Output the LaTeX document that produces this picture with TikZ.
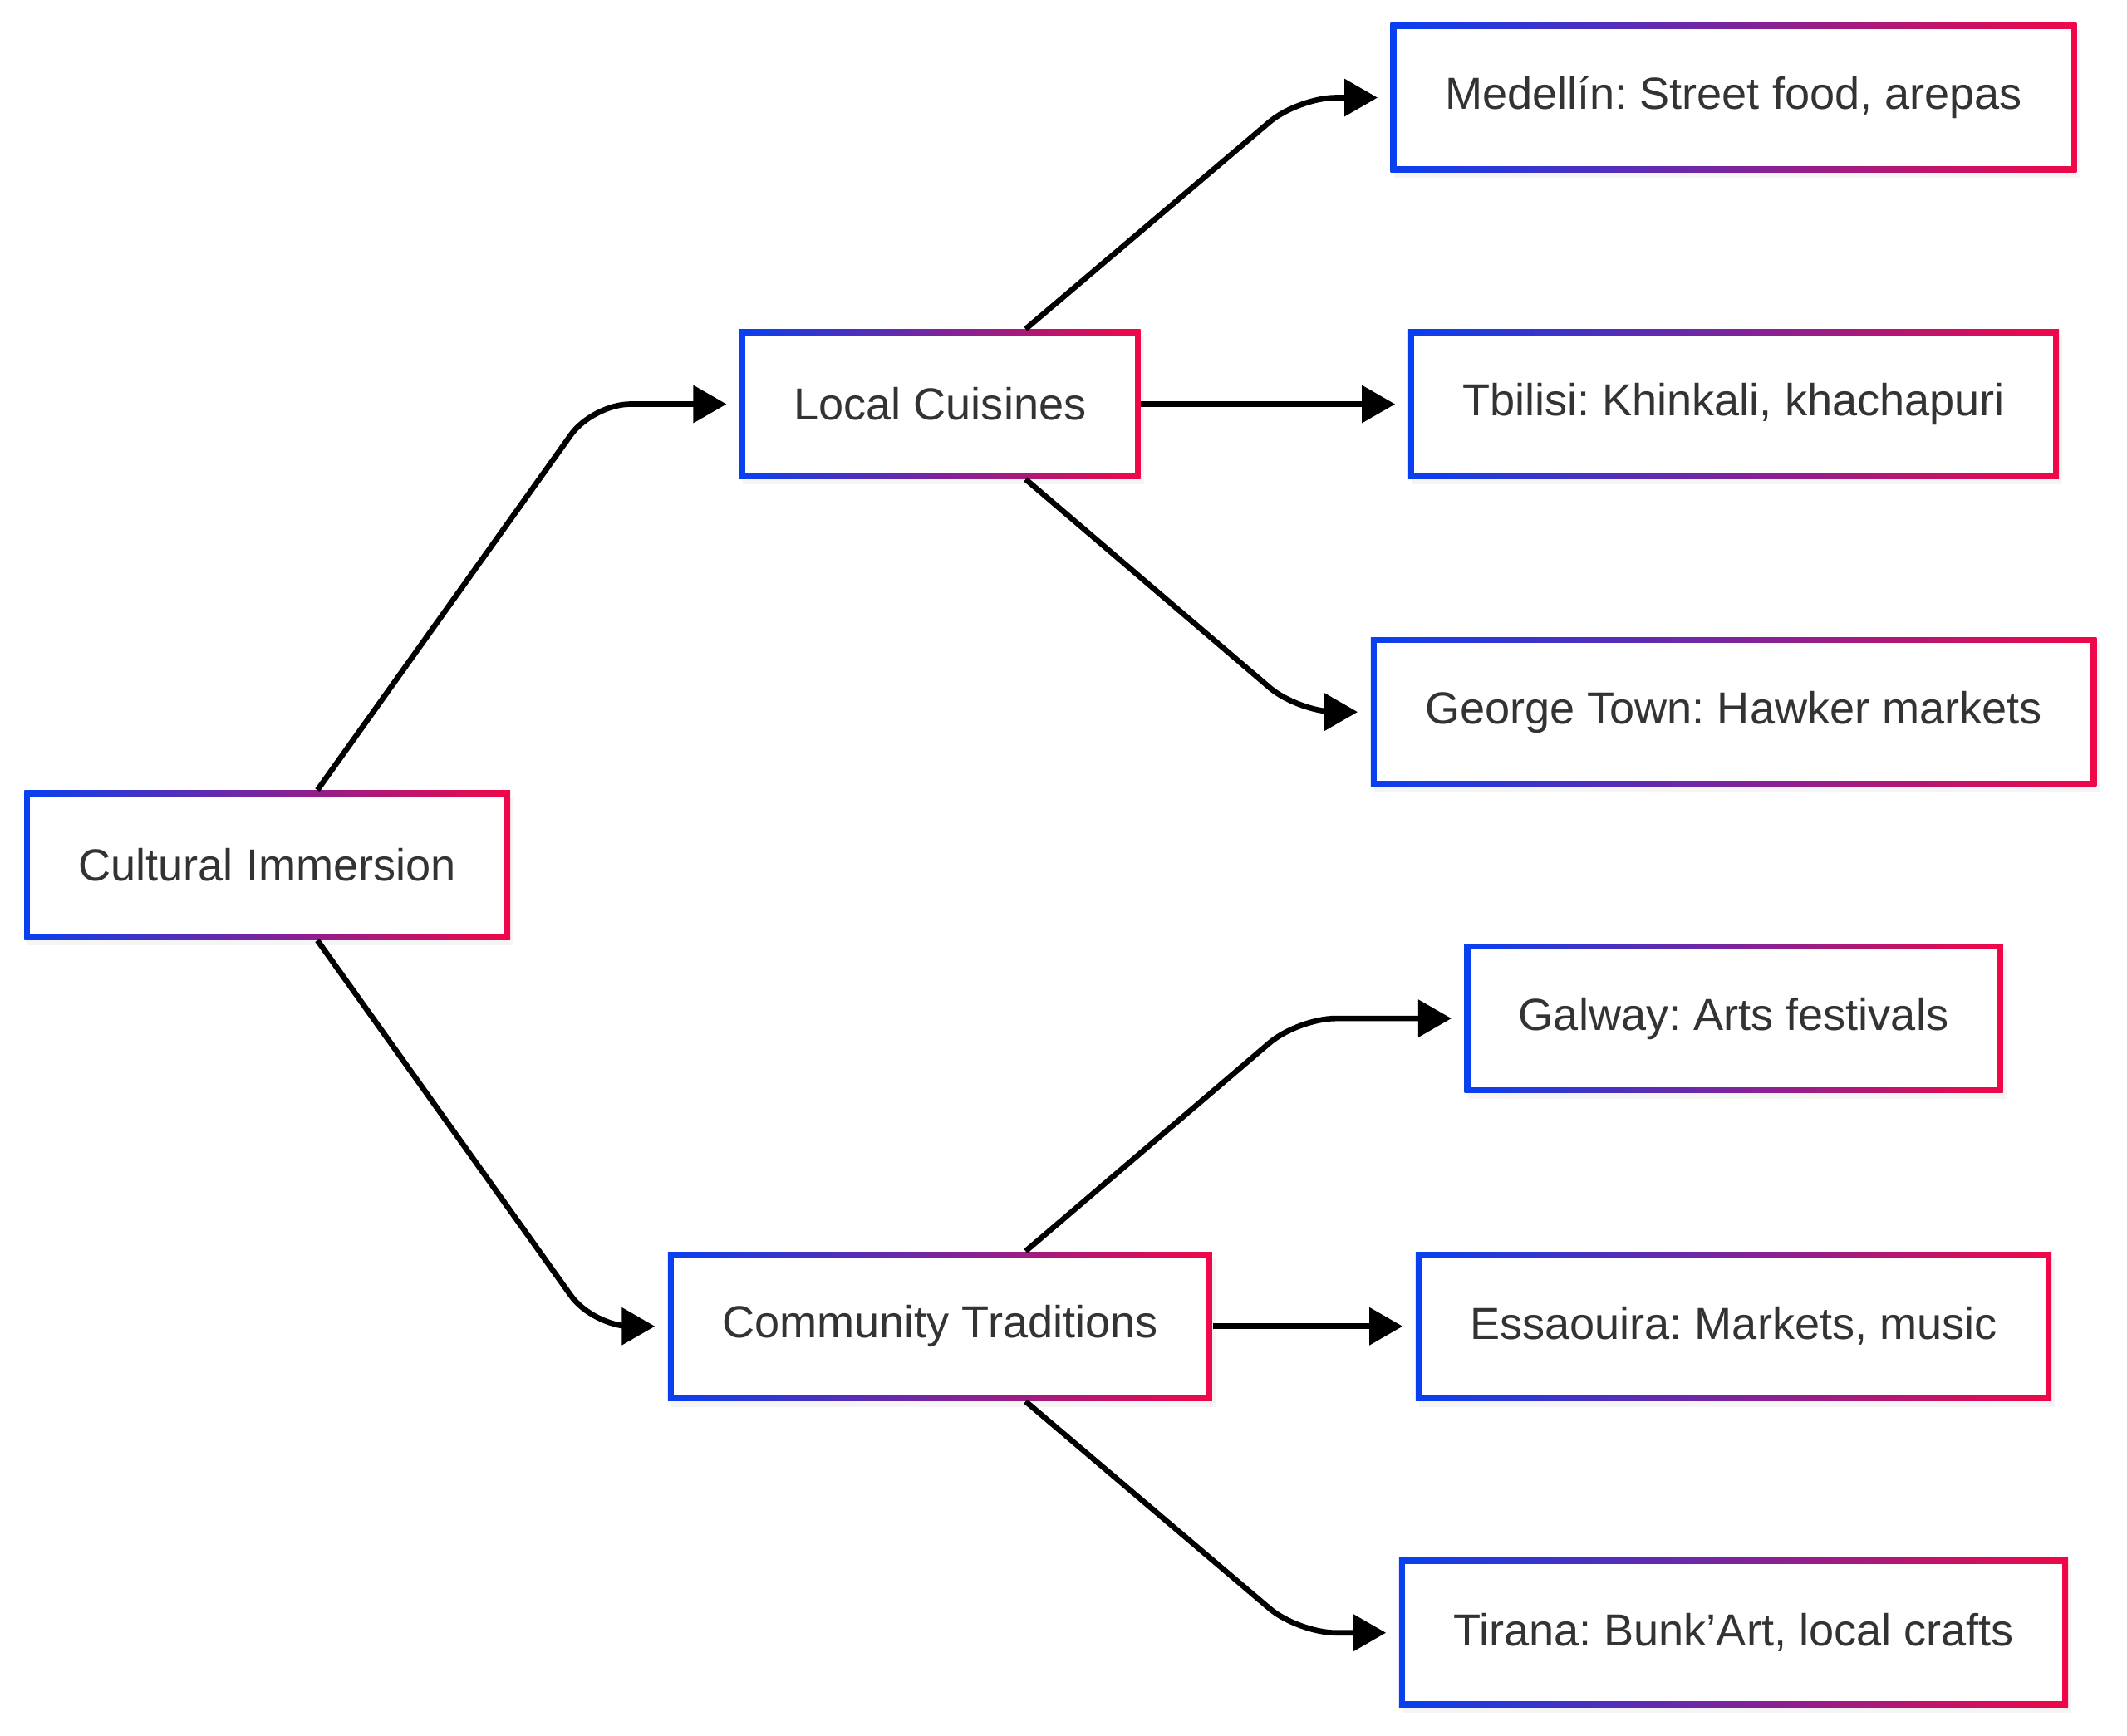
\documentclass[tikz,border=0pt]{standalone}
\usepackage{fontspec}
\setmainfont{Liberation Sans}
\usepackage{tikz}
\usetikzlibrary{arrows.meta, shadows}
\frenchspacing

\definecolor{cblue}{RGB}{8,64,240}
\definecolor{cred}{RGB}{240,8,72}
\definecolor{textgray}{RGB}{51,51,51}

\begin{document}
\begin{tikzpicture}[
        x=0.016327cm, y=-0.016327cm,
        box/.style={rectangle, minimum height=1.795cm, inner xsep=0.653cm,
            left color=cblue, right color=cred,
            drop shadow={shadow xshift=0.04cm, shadow yshift=-0.07cm, opacity=0.08},
            path picture={\fill[white] ([shift={(2pt,-2pt)}]path picture bounding box.north west)
                rectangle ([shift={(-2pt,2pt)}]path picture bounding box.south east);},
            text=textgray, font=\fontsize{15.4}{18}\selectfont},
        link/.style={line width=1.9pt, rounded corners=0.45cm,
            -{Triangle[length=0.4cm, width=0.44cm]}, shorten >=0.15cm}
    ]
        \useasboundingbox (0,0) rectangle (1568,1280);

        % Root and branches
        \node[box] (ci) at (197,638) {Cultural Immersion};
        \node[box] (lc) at (693,298) {Local Cuisines};
        \node[box] (ct) at (693,978) {Community Traditions};

        % Places
        \node[box] (med) at (1278,72) {Medellín: Street food, arepas};
        \node[box] (tbi) at (1278,298) {Tbilisi: Khinkali, khachapuri};
        \node[box] (geo) at (1278,525) {George Town: Hawker markets};
        \node[box] (gal) at (1278,751) {Galway: Arts festivals};
        \node[box] (ess) at (1278,978) {Essaouira: Markets, music};
        \node[box] (tir) at (1278,1204) {Tirana: Bunk’Art, local crafts};

        % Bend columns
        \coordinate (bendA) at (437,0);
        \coordinate (bendB) at (957,0);

        % Links
        \draw[link] ([xshift=0.604cm]ci.north) -- (bendA |- lc.west) -- (lc.west);
        \draw[link] ([xshift=0.604cm]ci.south) -- (bendA |- ct.west) -- (ct.west);

        \draw[link] ([xshift=1.03cm]lc.north) -- (bendB |- med.west) -- (med.west);
        \draw[link] (lc.east) -- (tbi.west);
        \draw[link] ([xshift=1.03cm]lc.south) -- (bendB |- geo.west) -- (geo.west);

        \draw[link] ([xshift=1.03cm]ct.north) -- (bendB |- gal.west) -- (gal.west);
        \draw[link] (ct.east) -- (ess.west);
        \draw[link] ([xshift=1.03cm]ct.south) -- (bendB |- tir.west) -- (tir.west);
    \end{tikzpicture}
\end{document}
